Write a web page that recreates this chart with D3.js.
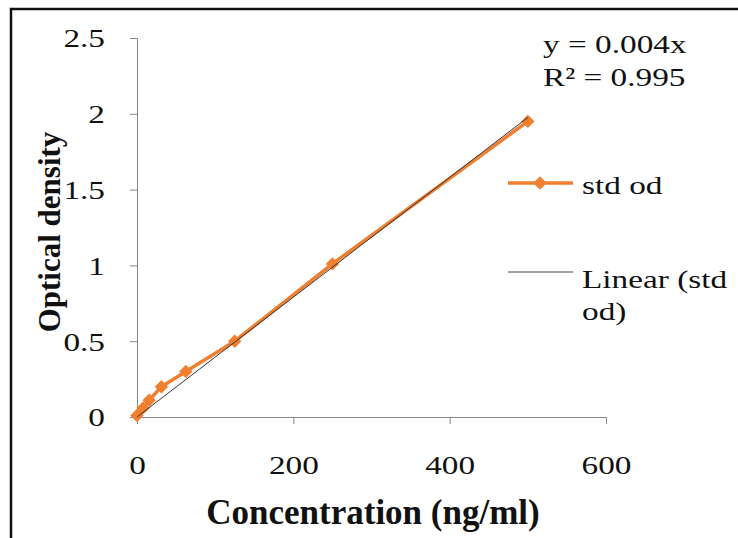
<!DOCTYPE html>
<html>
<head>
<meta charset="utf-8">
<script src="https://cdn.jsdelivr.net/npm/d3@7"></script>
<style>
  body { margin: 0; background: #fff; }
</style>
</head>
<body>
<div id="chart"></div>
<script>
// Data
var concentration = [0, 7.8, 15.6, 31.25, 62.5, 125, 250, 500];
var opticalDensity = [0.01, 0.06, 0.11, 0.20, 0.30, 0.50, 1.01, 1.95];
var xTicks = [0, 200, 400, 600];
var yTicks = [0, 0.5, 1, 1.5, 2, 2.5];
var equationLines = ["y = 0.004x", "R\u00b2 = 0.995"];
var seriesName = "std od";
var trendName = ["Linear (std", "od)"];

var W = 738, H = 538;
var orange = "#F07F30";
var serif = "'Liberation Serif', 'Times New Roman', serif";
var SX = 1.28; // the original text looks stretched sideways
var fs = 26;

var svg = d3.select("#chart").append("svg")
    .attr("width", W)
    .attr("height", H);

// frame
svg.append("rect")
    .attr("x", 11).attr("y", 9)
    .attr("width", W + 10).attr("height", H + 10)
    .attr("fill", "none").attr("stroke", "#111").attr("stroke-width", 2.5);

// stretched plain text placed at (x, y)
function label(parent, x, y, str, anchor) {
    return parent.append("g")
        .attr("transform", "translate(" + x + "," + y + ") scale(" + SX + ",1)")
        .append("text")
        .attr("text-anchor", anchor || "start")
        .attr("font-family", serif)
        .attr("font-size", fs)
        .attr("fill", "#111")
        .text(str);
}

// scales
var x = d3.scaleLinear().domain([0, 600]).range([137, 606]);
var y = d3.scaleLinear().domain([0, 2.5]).range([417, 38]);

// x axis
var xAxis = svg.append("g")
    .attr("transform", "translate(0," + y(0) + ")")
    .call(d3.axisBottom(x).tickValues(xTicks).tickSize(7).tickSizeOuter(0));
xAxis.select(".domain").attr("stroke", "#878787");
xAxis.selectAll(".tick line").attr("stroke", "#878787");
xAxis.selectAll("text")
    .attr("y", 57).attr("dy", null)
    .attr("transform", "scale(" + SX + ",1)")
    .attr("font-size", fs).attr("fill", "#111")
    .attr("font-family", serif);

// y axis
var yAxis = svg.append("g")
    .attr("transform", "translate(" + x(0) + ",0)")
    .call(d3.axisLeft(y).tickValues(yTicks).tickFormat(d3.format("~g")).tickSize(7).tickSizeOuter(0));
yAxis.select(".domain").attr("stroke", "#878787");
yAxis.selectAll(".tick line").attr("stroke", "#878787");
yAxis.selectAll("text")
    .attr("x", -32 / SX).attr("dy", "0.34em")
    .attr("transform", "scale(" + SX + ",1)")
    .attr("font-size", fs).attr("fill", "#111")
    .attr("font-family", serif);

// linear trend through origin (least squares)
var sxy = d3.sum(concentration, function (c, i) { return c * opticalDensity[i]; });
var sxx = d3.sum(concentration, function (c) { return c * c; });
var slope = sxy / sxx;
var xMax = d3.max(concentration);

var points = concentration.map(function (c, i) { return [c, opticalDensity[i]]; });

var line = d3.line()
    .x(function (d) { return x(d[0]); })
    .y(function (d) { return y(d[1]); });

svg.append("path")
    .datum(points)
    .attr("d", line)
    .attr("fill", "none")
    .attr("stroke", orange)
    .attr("stroke-width", 3.6)
    .attr("stroke-linejoin", "round");

var diamond = d3.symbol().type(d3.symbolDiamond2).size(115);

svg.selectAll(".pt")
    .data(points)
    .enter().append("path")
    .attr("class", "pt")
    .attr("transform", function (d) { return "translate(" + x(d[0]) + "," + y(d[1]) + ")"; })
    .attr("d", diamond)
    .attr("fill", orange);

svg.append("path")
    .datum([[0, 0], [xMax, slope * xMax]])
    .attr("d", line)
    .attr("fill", "none")
    .attr("stroke", "#333")
    .attr("stroke-width", 1);

// equation
equationLines.forEach(function (s, i) {
    label(svg, 543, 53 + i * 33, s);
});

// legend
svg.append("line")
    .attr("x1", 508).attr("x2", 573).attr("y1", 183).attr("y2", 183)
    .attr("stroke", orange).attr("stroke-width", 3.6);
svg.append("path")
    .attr("transform", "translate(540,183)")
    .attr("d", diamond)
    .attr("fill", orange);
label(svg, 582, 194, seriesName);

svg.append("line")
    .attr("x1", 508).attr("x2", 573).attr("y1", 272).attr("y2", 272)
    .attr("stroke", "#444").attr("stroke-width", 1);
trendName.forEach(function (s, i) {
    label(svg, 582, 288 + i * 32, s);
});

// axis titles
svg.append("text")
    .attr("x", 373).attr("y", 524)
    .attr("text-anchor", "middle")
    .attr("font-family", serif)
    .attr("font-size", 35).attr("font-weight", "bold")
    .attr("fill", "#111")
    .text("Concentration (ng/ml)");

svg.append("text")
    .attr("transform", "translate(60,232) rotate(-90)")
    .attr("text-anchor", "middle")
    .attr("font-family", serif)
    .attr("font-size", 31).attr("font-weight", "bold")
    .attr("fill", "#111")
    .text("Optical density");
</script>
</body>
</html>
